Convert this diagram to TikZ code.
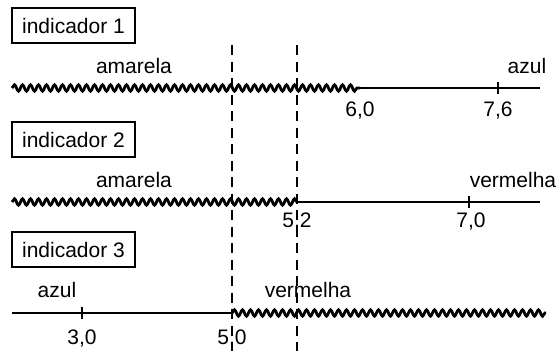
\documentclass[tikz,border=0pt]{standalone}
\usepackage{fontspec}
\setmainfont{Liberation Sans}
\usetikzlibrary{decorations.pathmorphing}
\begin{document}
\begin{tikzpicture}[x=1pt,y=-1pt,
  txt/.style={font=\fontsize{21}{24}\selectfont, inner sep=0pt, anchor=base},
  ibox/.style={draw, line width=1.1pt, font=\fontsize{21}{24}\selectfont, inner sep=0pt, minimum width=123pt, minimum height=35pt},
  plain line/.style={line width=1.6pt},
  wave/.style={line width=2.8pt, decorate, decoration={snake, segment length=8pt, amplitude=3.2pt}},
  tickmark/.style={line width=1.5pt},
  guide/.style={line width=1.4pt, dash pattern=on 10pt off 6.5pt}]
\useasboundingbox (0,0) rectangle (560,351);

% boxes
\node[ibox] (b1) at (73.5,25.5) {indicador 1};
\node[ibox] (b2) at (73.5,139.5) {indicador 2};
\node[ibox] (b3) at (73.5,249.5) {indicador 3};

% dashed guides
\coordinate (g1t) at (232,45); \coordinate (g1b) at (232,351);
\coordinate (g2t) at (297,45); \coordinate (g2b) at (297,351);
\draw[guide] (g1t) -- (g1b);
\draw[guide] (g2t) -- (g2b);

% row 1
\coordinate (r1a) at (12,88); \coordinate (r1b) at (360,88); \coordinate (r1c) at (540,88);
\coordinate (t1t) at (498,82); \coordinate (t1b) at (498,94);
\draw[wave] (r1a) -- (r1b);
\draw[plain line] (r1b) -- (r1c);
\draw[tickmark] (t1t) -- (t1b);
\node[txt] (am1) at (134,73) {amarela};
\node[txt] (az1) at (527,73) {azul};
\node[txt] (n60) at (360,116) {6,0};
\node[txt] (n76) at (498,116) {7,6};

% row 2
\coordinate (r2a) at (12,202); \coordinate (r2b) at (297,202); \coordinate (r2c) at (540,202);
\coordinate (t2t) at (469,196); \coordinate (t2b) at (469,208);
\draw[wave] (r2a) -- (r2b);
\draw[plain line] (r2b) -- (r2c);
\draw[tickmark] (t2t) -- (t2b);
\node[txt] (am2) at (134,187) {amarela};
\node[txt] (ve2) at (513,187) {vermelha};
\node[txt] (n52) at (297,227) {5,2};
\node[txt] (n70) at (471,227) {7,0};

% row 3
\coordinate (r3a) at (12,313); \coordinate (r3b) at (232,313); \coordinate (r3c) at (546,313);
\coordinate (t3t) at (82,307); \coordinate (t3b) at (82,319);
\draw[plain line] (r3a) -- (r3b);
\draw[wave] (r3b) -- (r3c);
\draw[tickmark] (t3t) -- (t3b);
\node[txt] (az3) at (57,297) {azul};
\node[txt] (ve3) at (308,297) {vermelha};
\node[txt] (n30) at (82,344) {3,0};
\node[txt] (n50) at (232,344) {5,0};
\end{tikzpicture}
\end{document}
